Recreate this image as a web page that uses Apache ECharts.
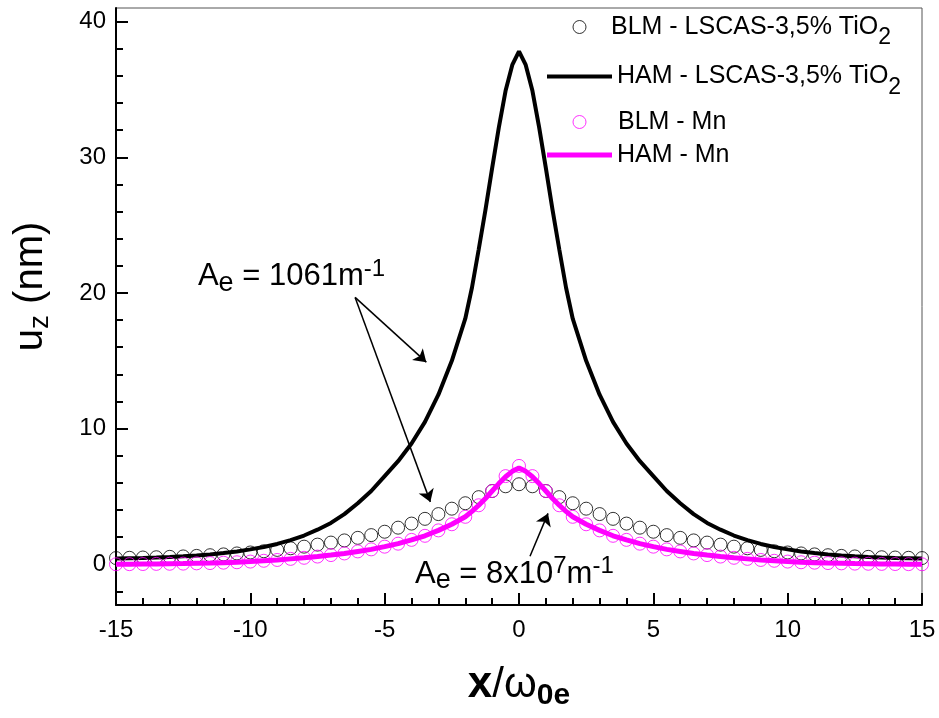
<!DOCTYPE html>
<html><head><meta charset="utf-8">
<script src="https://cdn.jsdelivr.net/npm/echarts@6/dist/echarts.min.js"></script>
<style>html,body{margin:0;padding:0;background:#fff}#c{width:939px;height:718px}</style>
</head><body><div id="c"></div>
<script>
const FONT = 'Liberation Sans, Arial, Helvetica, sans-serif';
const seriesNames = ['BLM - LSCAS-3,5% TiO2', 'HAM - LSCAS-3,5% TiO2', 'BLM - Mn', 'HAM - Mn'];

const blmX = [-15,-14.5,-14,-13.5,-13,-12.5,-12,-11.5,-11,-10.5,-10,-9.5,-9,-8.5,-8,-7.5,-7,-6.5,-6,-5.5,-5,-4.5,-4,-3.5,-3,-2.5,-2,-1.5,-1,-0.5,0,0.5,1,1.5,2,2.5,3,3.5,4,4.5,5,5.5,6,6.5,7,7.5,8,8.5,9,9.5,10,10.5,11,11.5,12,12.5,13,13.5,14,14.5,15];
const blmTi = [0.46,0.48,0.5,0.52,0.55,0.58,0.62,0.67,0.73,0.8,0.87,0.96,1.06,1.18,1.3,1.45,1.6,1.76,1.95,2.15,2.4,2.7,3.0,3.35,3.7,4.1,4.5,4.95,5.4,5.75,5.9,5.75,5.4,4.95,4.5,4.1,3.7,3.35,3.0,2.7,2.4,2.15,1.95,1.76,1.6,1.45,1.3,1.18,1.06,0.96,0.87,0.8,0.73,0.67,0.62,0.58,0.55,0.52,0.5,0.48,0.46];
const blmMn = [0.0,0.01,0.02,0.03,0.04,0.05,0.07,0.09,0.12,0.15,0.2,0.26,0.32,0.4,0.48,0.57,0.68,0.8,0.95,1.1,1.3,1.52,1.8,2.1,2.5,2.95,3.5,4.35,5.4,6.5,7.25,6.5,5.4,4.35,3.5,2.95,2.5,2.1,1.8,1.52,1.3,1.1,0.95,0.8,0.68,0.57,0.48,0.4,0.32,0.26,0.2,0.15,0.12,0.09,0.07,0.05,0.04,0.03,0.02,0.01,0.0];

const hamX = [-15,-14.5,-14,-13.5,-13,-12.5,-12,-11.5,-11,-10.5,-10,-9.5,-9,-8.5,-8,-7.5,-7,-6.5,-6,-5.5,-5,-4.5,-4,-3.5,-3,-2.5,-2,-1.75,-1.5,-1.25,-1,-0.75,-0.5,-0.25,0,0.25,0.5,0.75,1,1.25,1.5,1.75,2,2.5,3,3.5,4,4.5,5,5.5,6,6.5,7,7.5,8,8.5,9,9.5,10,10.5,11,11.5,12,12.5,13,13.5,14,14.5,15];
const hamTi = [0.43,0.45,0.47,0.5,0.54,0.59,0.65,0.73,0.83,0.95,1.1,1.28,1.5,1.78,2.12,2.55,3.05,3.7,4.5,5.4,6.5,7.6,8.9,10.5,12.5,15.0,18.1,20.4,23.2,26.1,29.2,32.2,34.9,36.8,37.8,36.8,34.9,32.2,29.2,26.1,23.2,20.4,18.1,15.0,12.5,10.5,8.9,7.6,6.5,5.4,4.5,3.7,3.05,2.55,2.12,1.78,1.5,1.28,1.1,0.95,0.83,0.73,0.65,0.59,0.54,0.5,0.47,0.45,0.43];
const hamMn = [0.0,0.01,0.02,0.03,0.04,0.05,0.07,0.09,0.12,0.15,0.2,0.26,0.32,0.4,0.48,0.57,0.68,0.8,0.95,1.1,1.3,1.52,1.8,2.1,2.5,2.95,3.5,3.9,4.35,4.85,5.4,5.95,6.45,6.85,7.1,6.85,6.45,5.95,5.4,4.85,4.35,3.9,3.5,2.95,2.5,2.1,1.8,1.52,1.3,1.1,0.95,0.8,0.68,0.57,0.48,0.4,0.32,0.26,0.2,0.15,0.12,0.09,0.07,0.05,0.04,0.03,0.02,0.01,0.0];

const yMajorTicks = [0, 10, 20, 30, 40];
const yMinorTicks = [-2, 2, 4, 6, 8, 12, 14, 16, 18, 22, 24, 26, 28, 32, 34, 36, 38];

// annotations (data coordinates)
const annot1Pos = [-11.95, 21.2];
const annot2Pos = [-3.87, -0.74];
const arrows = [
  [[-6.1, 19.67], [-3.45, 14.9]],
  [[-6.1, 19.67], [-3.3, 4.6]],
  [[0.41, 0.59], [1.08, 3.75]]
];

const pair = (xs, ys) => xs.map((x, i) => [x, ys[i]]);

const chart = echarts.init(document.getElementById('c'), null, {renderer: 'canvas'});

const legendRich = {
  m: {fontSize: 25, color: '#000', fontFamily: FONT},
  s: {fontSize: 23, color: '#000', fontFamily: FONT, padding: [22, 0, 0, 0]}
};
const legendFmt = n => n.endsWith('TiO2') ? '{m|' + n.slice(0, -1) + '}{s|2}' : '{m|' + n + '}';
const mkLegend = (extra, padLeft) => Object.assign({
  orient: 'vertical', padding: 0, selectedMode: false,
  formatter: legendFmt,
  textStyle: {fontSize: 25, color: '#000', fontFamily: FONT, rich: legendRich, padding: [0, 0, 0, padLeft]}
}, extra);

const annRich = {
  a: {fontSize: 31, color: '#000', fontFamily: FONT},
  e: {fontSize: 27, color: '#000', fontFamily: FONT, padding: [13, 0, 0, 0]},
  p: {fontSize: 24, color: '#000', fontFamily: FONT, padding: [0, 0, 15, 0]}
};

const option = {
  animation: false,
  backgroundColor: '#fff',
  grid: {left: 116, right: 17, top: 8, bottom: 113, show: true, borderColor: '#555', borderWidth: 1, containLabel: false},
  legend: [
    mkLegend({data: [seriesNames[0]], left: 572.5, top: 14.5, itemWidth: 13, itemHeight: 13, icon: 'circle',
      itemStyle: {color: 'rgba(0,0,0,0)', borderColor: '#000', borderWidth: 1}}, 20),
    mkLegend({data: [seriesNames[1]], left: 547, top: 64, itemWidth: 65, itemHeight: 4, icon: 'rect',
      itemStyle: {color: '#000'}}, 0),
    mkLegend({data: [seriesNames[2]], left: 572.5, top: 109.5, itemWidth: 13, itemHeight: 13, icon: 'circle',
      itemStyle: {color: 'rgba(0,0,0,0)', borderColor: '#ff00ff', borderWidth: 1}}, 27),
    mkLegend({data: [seriesNames[3]], left: 547, top: 142.5, itemWidth: 65, itemHeight: 5, icon: 'rect',
      itemStyle: {color: '#ff00ff'}}, 0)
  ],
  xAxis: {
    type: 'value', min: -15, max: 15, interval: 5,
    axisLine: {show: true, onZero: false, lineStyle: {color: '#000', width: 2}},
    axisTick: {show: true, inside: true, length: 12, lineStyle: {color: '#000', width: 2}},
    minorTick: {show: true, splitNumber: 5, length: 7, lineStyle: {color: '#000', width: 2}},
    axisLabel: {fontSize: 24, color: '#000', fontFamily: FONT, margin: 13},
    splitLine: {show: false},
    name: '{x|x}{n|/ω}{s|0e}',
    nameLocation: 'middle', nameGap: 54,
    nameTextStyle: {
      color: '#000', fontFamily: FONT,
      rich: {
        x: {fontSize: 44, fontWeight: 'bold', color: '#000', fontFamily: FONT},
        n: {fontSize: 42, color: '#000', fontFamily: FONT},
        s: {fontSize: 30, fontWeight: 'bold', color: '#000', fontFamily: FONT, padding: [22, 0, 0, 0]}
      }
    }
  },
  yAxis: [
    {
      type: 'value', min: -3, max: 41, position: 'left',
      axisLine: {show: true, onZero: false, lineStyle: {color: '#000', width: 2}},
      axisTick: {show: true, inside: true, length: 12, customValues: yMajorTicks, lineStyle: {color: '#000', width: 2}},
      axisLabel: {fontSize: 24, color: '#000', fontFamily: FONT, margin: 10, customValues: yMajorTicks},
      splitLine: {show: false},
      name: '{u|u}{z|z}{n| (nm)}',
      nameLocation: 'middle', nameGap: 62, nameRotate: 90,
      nameTextStyle: {
        color: '#000', fontFamily: FONT, padding: [0, 0, 0, 40],
        rich: {
          u: {fontSize: 40, color: '#000', fontFamily: FONT},
          z: {fontSize: 28, color: '#000', fontFamily: FONT, padding: [19, 0, 0, 0]},
          n: {fontSize: 40, color: '#000', fontFamily: FONT}
        }
      }
    },
    {
      // minor ticks: right-side axis shifted onto the left edge of the plot
      type: 'value', min: -3, max: 41, position: 'right', offset: -806,
      axisLine: {show: false, onZero: false},
      axisTick: {show: true, inside: false, length: 7, customValues: yMinorTicks, lineStyle: {color: '#000', width: 2}},
      axisLabel: {show: false},
      splitLine: {show: false}
    }
  ],
  series: [
    {
      name: seriesNames[1], type: 'line', data: pair(hamX, hamTi), symbol: 'none', showSymbol: false,
      lineStyle: {color: '#000', width: 4}, itemStyle: {color: '#000'}, z: 2, silent: true,
      markLine: {
        silent: true, symbol: ['none', 'arrow'], symbolSize: 12,
        lineStyle: {color: '#000', width: 1.5, type: 'solid'},
        label: {show: false}, emphasis: {disabled: true},
        data: arrows.map(a => [{coord: a[0]}, {coord: a[1]}])
      },
      markPoint: {
        silent: true, symbol: 'circle', symbolSize: 0,
        itemStyle: {color: 'rgba(0,0,0,0)'},
        label: {show: true, position: 'right', distance: 0, color: '#000', rich: annRich},
        data: [
          {coord: annot1Pos, label: {formatter: '{a|A}{e|e}{a| = 1061m}{p|-1}'}},
          {coord: annot2Pos, label: {formatter: '{a|A}{e|e}{a| = 8x10}{p|7}{a|m}{p|-1}'}}
        ]
      }
    },
    {
      name: seriesNames[0], type: 'scatter', data: pair(blmX, blmTi), symbol: 'circle', symbolSize: 13,
      itemStyle: {color: 'rgba(0,0,0,0)', borderColor: '#000', borderWidth: 1}, z: 3, silent: true
    },
    {
      name: seriesNames[3], type: 'line', data: pair(hamX, hamMn), symbol: 'none', showSymbol: false,
      lineStyle: {color: '#ff00ff', width: 5}, itemStyle: {color: '#ff00ff'}, z: 4, silent: true
    },
    {
      name: seriesNames[2], type: 'scatter', data: pair(blmX, blmMn), symbol: 'circle', symbolSize: 13,
      itemStyle: {color: 'rgba(0,0,0,0)', borderColor: '#ff00ff', borderWidth: 1}, z: 5, silent: true
    }
  ]
};
chart.setOption(option);
</script>
</body></html>
